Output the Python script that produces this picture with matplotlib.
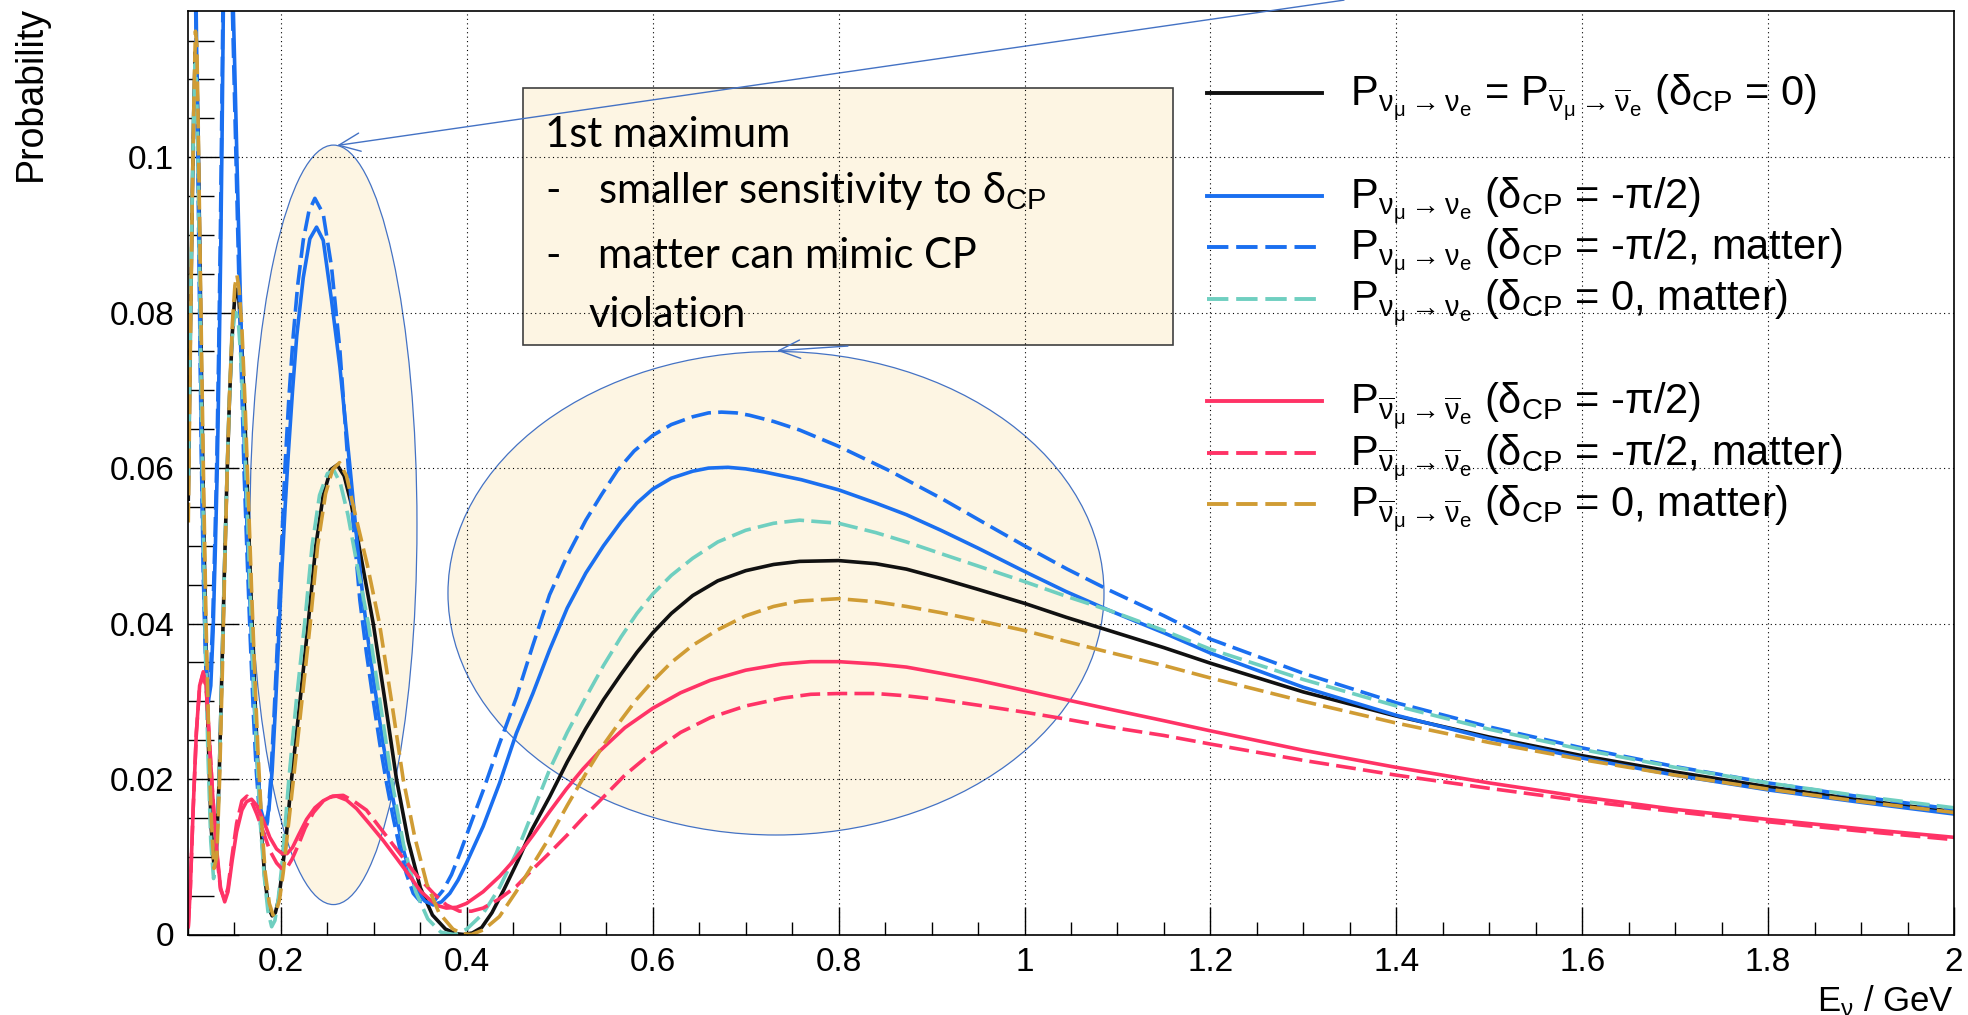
import matplotlib
matplotlib.use('agg')
import matplotlib.pyplot as plt
from matplotlib.patches import Ellipse, Rectangle
from matplotlib.ticker import MultipleLocator, FuncFormatter

nan = float('nan')

# ---- curves (E in GeV, probability) ----
e_black = [0.1003, 0.1025, 0.1045, 0.1062, 0.1078, 0.1093, 0.111, 0.1127, 0.1145, 0.1165, 0.119, 0.1218, 0.1248,
           0.1278, 0.1305, 0.1335, 0.1365, 0.139, 0.1415, 0.1445, 0.1475, 0.150, 0.1522, 0.1545, 0.1575, 0.161,
           0.1645, 0.168, 0.1715, 0.175, 0.1785, 0.1825, 0.1865, 0.1905, 0.194, 0.1975, 0.2007, 0.206, 0.2114,
           0.2205, 0.2293, 0.2375, 0.2455, 0.2535, 0.2605, 0.268, 0.2755, 0.287, 0.2993, 0.312, 0.3243, 0.337, 0.35,
           0.363, 0.377, 0.388, 0.397, 0.406, 0.416, 0.427, 0.44,
           0.455, 0.47, 0.489, 0.508, 0.528, 0.547, 0.566, 0.583, 0.6, 0.62, 0.643, 0.67, 0.7, 0.73, 0.758, 0.8,
           0.84, 0.873, 0.91, 0.95, 1.0, 1.045, 1.091, 1.15, 1.2, 1.3, 1.4, 1.5, 1.6, 1.7, 1.8, 1.9, 2.0]
p_black = [0.056, 0.077, 0.094, 0.106, 0.1135, 0.112, 0.102, 0.088, 0.072, 0.056, 0.039, 0.025, 0.014, 0.009,
           0.0105, 0.020, 0.034, 0.046, 0.057, 0.0685, 0.077, 0.0815, 0.083, 0.082, 0.077, 0.067, 0.055, 0.043,
           0.032, 0.022, 0.014, 0.0075, 0.0035, 0.0024, 0.0028, 0.0045, 0.0075, 0.013, 0.020, 0.030, 0.040, 0.050,
           0.0565, 0.0598, 0.0604, 0.059, 0.0555, 0.048, 0.040, 0.030, 0.020, 0.012, 0.006, 0.0025, 0.0007, 0.0001,
           0.0, 0.0002, 0.0009, 0.0028, 0.0058,
           0.0095, 0.0135, 0.0177, 0.0222, 0.0265, 0.0302, 0.0335, 0.0363, 0.0388, 0.0413, 0.0436, 0.0455, 0.0468,
           0.0476, 0.048, 0.0481, 0.0477, 0.047, 0.0458, 0.0444, 0.0426, 0.0408, 0.0391, 0.0369, 0.0349, 0.0312,
           0.0281, 0.0254, 0.023, 0.0209, 0.019, 0.0173, 0.0158]

e_blue = [0.1088, 0.1098, 0.111, 0.1129, 0.1147, 0.117, 0.1195, 0.1219, 0.1245, 0.127, 0.1295, 0.1315, 0.1335,
          0.1352, 0.1366, 0.138, nan, 0.1488, 0.151, 0.153, 0.1559, 0.1585, 0.1613, 0.1645, 0.168, 0.1715, 0.1745,
          0.1785, 0.1828, 0.187, 0.1905, 0.194, 0.1975, 0.201, 0.2045, 0.208, 0.2125, 0.217, 0.224, 0.2311, 0.2383,
          0.2455, 0.2544, 0.2634, 0.2742, 0.2815, 0.2885, 0.2955, 0.3028, 0.31, 0.3172, 0.3245, 0.3315, 0.3385,
          0.3458, 0.3548, 0.3638, 0.3727, 0.3817, 0.3906, 0.3996, 0.4175, 0.4353,
          0.4533, 0.471, 0.489, 0.508, 0.528, 0.547, 0.566, 0.583, 0.6, 0.62, 0.643, 0.66, 0.681, 0.70, 0.72,
          0.76, 0.8, 0.84, 0.873, 0.91, 0.95, 1.0, 1.045, 1.091, 1.15, 1.2, 1.3, 1.4, 1.5, 1.6, 1.7, 1.8, 1.9, 2.0]
p_blue = [0.1188, 0.109, 0.1, 0.08, 0.061, 0.045, 0.034, 0.030, 0.032, 0.039, 0.050, 0.060, 0.074, 0.088, 0.102,
          0.1188, nan, 0.1188, 0.108, 0.098, 0.084, 0.072, 0.060, 0.049, 0.039, 0.029, 0.022, 0.016, 0.0142, 0.016,
          0.021, 0.029, 0.038, 0.047, 0.055, 0.062, 0.070, 0.077, 0.0845, 0.0895, 0.091, 0.0893, 0.0816, 0.073,
          0.0602, 0.051, 0.043, 0.0362, 0.0302, 0.0245, 0.0195, 0.015, 0.011, 0.008, 0.0057, 0.0043, 0.0038,
          0.0042, 0.0053, 0.007, 0.0092, 0.0139, 0.0195,
          0.0259, 0.031, 0.0366, 0.042, 0.0465, 0.05, 0.0531, 0.0555, 0.0573, 0.0587, 0.0596, 0.06, 0.0601, 0.0599,
          0.0595, 0.0585, 0.0572, 0.0555, 0.054, 0.052, 0.0497, 0.0467, 0.0441, 0.0417, 0.0388, 0.0362, 0.0318,
          0.0282, 0.0252, 0.0227, 0.0205, 0.0186, 0.017, 0.0155]

e_blue_m = [0.1083, 0.1093, 0.1105, 0.1125, 0.1143, 0.1165, 0.119, 0.1213, 0.124, 0.1265, 0.129, 0.131, 0.133,
            0.1347, 0.1361, 0.1375, nan, 0.1478, 0.150, 0.152, 0.1548, 0.1575, 0.1602, 0.1635, 0.167, 0.1705,
            0.1735, 0.1775, 0.1815, 0.1855, 0.189, 0.1925, 0.196, 0.2, 0.2043, 0.2085, 0.2132, 0.218, 0.224, 0.230,
            0.2365, 0.2455, 0.2544, 0.2634, 0.2724, 0.2787, 0.2849, 0.292, 0.2992, 0.3064, 0.3136, 0.3208, 0.328,
            0.335, 0.3423, 0.3495, 0.3566, 0.3655, 0.3745, 0.3835, 0.3924, 0.405, 0.4175, 0.435, 0.4533,
            0.471, 0.489, 0.508, 0.528, 0.545, 0.562, 0.58, 0.6, 0.62, 0.643, 0.66, 0.674, 0.69, 0.704, 0.73, 0.758,
            0.8, 0.854, 0.912, 0.969, 1.0, 1.046, 1.091, 1.15, 1.2, 1.3, 1.4, 1.5, 1.6, 1.7, 1.8, 1.9, 2.0]
p_blue_m = [0.1188, 0.109, 0.1, 0.08, 0.062, 0.046, 0.035, 0.031, 0.033, 0.040, 0.051, 0.061, 0.075, 0.089, 0.103,
            0.1188, nan, 0.1188, 0.108, 0.098, 0.084, 0.072, 0.060, 0.049, 0.038, 0.028, 0.021, 0.0145, 0.0125,
            0.0145, 0.020, 0.028, 0.037, 0.048, 0.060, 0.069, 0.077, 0.0835, 0.0893, 0.093, 0.0947, 0.0927,
            0.0859, 0.0752, 0.0602, 0.0515, 0.043, 0.0362, 0.0302, 0.0245, 0.0195, 0.015, 0.011, 0.0078, 0.0053,
            0.0043, 0.004, 0.0044, 0.0057, 0.0077, 0.0104, 0.0145, 0.0185, 0.0245, 0.0305,
            0.0372, 0.0437, 0.0487, 0.0533, 0.0566, 0.0597, 0.0622, 0.0642, 0.0656, 0.0666, 0.0671, 0.0672, 0.0671,
            0.0668, 0.066, 0.0649, 0.0628, 0.0597, 0.056, 0.0521, 0.05, 0.047, 0.0443, 0.041, 0.038, 0.0336,
            0.0298, 0.0267, 0.024, 0.0216, 0.0195, 0.0177, 0.0161]

e_teal = [0.1003, 0.1025, 0.1045, 0.1062, 0.1078, 0.1093, 0.111, 0.1125, 0.1143, 0.1163, 0.1187, 0.1215, 0.1245,
          0.1275, 0.1305, 0.1335, 0.1365, 0.139, 0.1412, 0.144, 0.147, 0.150, 0.1518, 0.154, 0.157, 0.1605, 0.164,
          0.1675, 0.171, 0.1745, 0.178, 0.182, 0.186, 0.19, 0.1935, 0.197, 0.2007, 0.2045, 0.2085, 0.2165, 0.2255,
          0.2335, 0.2415, 0.25, 0.257, 0.264, 0.272, 0.282, 0.294, 0.3065, 0.319, 0.332, 0.345, 0.358, 0.372,
          0.386, 0.40, 0.4175, 0.435, 0.4533,
          0.471, 0.489, 0.508, 0.528, 0.547, 0.566, 0.583, 0.6, 0.62, 0.643, 0.67, 0.7, 0.73, 0.758, 0.8, 0.84,
          0.873, 0.91, 0.95, 1.0, 1.045, 1.091, 1.15, 1.2, 1.3, 1.4, 1.5, 1.6, 1.7, 1.8, 1.9, 2.0]
p_teal = [0.058, 0.078, 0.095, 0.106, 0.112, 0.109, 0.098, 0.085, 0.069, 0.054, 0.037, 0.023, 0.012, 0.0072,
          0.0095, 0.020, 0.034, 0.046, 0.056, 0.067, 0.076, 0.0795, 0.080, 0.079, 0.074, 0.065, 0.054, 0.042,
          0.031, 0.022, 0.014, 0.0075, 0.003, 0.001, 0.0018, 0.0045, 0.0085, 0.014, 0.020, 0.030, 0.040, 0.050,
          0.0565, 0.0593, 0.0597, 0.058, 0.054, 0.0475, 0.040, 0.030, 0.020, 0.0115, 0.0055, 0.002, 0.0003, 0.0,
          0.0007, 0.0027, 0.006, 0.0105,
          0.0158, 0.0212, 0.026, 0.0305, 0.0346, 0.0383, 0.0413, 0.0438, 0.0462, 0.0484, 0.0505, 0.052, 0.0529,
          0.0533, 0.0529, 0.0517, 0.0505, 0.049, 0.0474, 0.0454, 0.0435, 0.0417, 0.0391, 0.0367, 0.0328, 0.0294,
          0.0264, 0.0238, 0.0215, 0.0195, 0.0178, 0.0163]

e_red = [0.1003, 0.1025, 0.1055, 0.109, 0.1125, 0.1164, 0.1195, 0.1225, 0.1265, 0.1308, 0.135, 0.1395, 0.143,
         0.1475, 0.1523, 0.158, 0.163, 0.1684, 0.174, 0.181, 0.188, 0.1953, 0.2015, 0.2065, 0.2125, 0.219, 0.2275,
         0.2365, 0.2455, 0.2535, 0.2598, 0.2705, 0.2813, 0.2955, 0.31, 0.3245, 0.3387, 0.35, 0.36, 0.369, 0.378,
         0.389, 0.3996, 0.4175, 0.4354, 0.4533,
         0.4713, 0.489, 0.507, 0.525, 0.543, 0.57, 0.6, 0.63, 0.662, 0.7, 0.739, 0.77, 0.8, 0.84, 0.873, 0.91,
         0.95, 1.0, 1.045, 1.091, 1.15, 1.2, 1.3, 1.4, 1.5, 1.6, 1.7, 1.8, 1.9, 2.0]
p_red = [0.001, 0.006, 0.016, 0.026, 0.032, 0.0338, 0.032, 0.026, 0.018, 0.011, 0.006, 0.0042, 0.0055, 0.0095,
         0.0132, 0.016, 0.0171, 0.0174, 0.0166, 0.0147, 0.0125, 0.011, 0.0104, 0.0104, 0.0112, 0.0128, 0.0148,
         0.0163, 0.0172, 0.0177, 0.0178, 0.0173, 0.0162, 0.0142, 0.0121, 0.0098, 0.0075, 0.0056, 0.0045, 0.0037,
         0.0034, 0.0035, 0.004, 0.0055, 0.0075, 0.0099,
         0.0128, 0.0158, 0.0187, 0.0213, 0.0236, 0.0266, 0.0291, 0.0311, 0.0327, 0.034, 0.0348, 0.0351, 0.0351,
         0.0348, 0.0344, 0.0336, 0.0327, 0.0314, 0.0302, 0.029, 0.0275, 0.0262, 0.0237, 0.0215, 0.0195, 0.0177,
         0.0161, 0.0148, 0.0136, 0.0125]

e_red_m = [0.1003, 0.1025, 0.1055, 0.109, 0.1125, 0.116, 0.1195, 0.1225, 0.1265, 0.1308, 0.135, 0.1395, 0.143,
           0.1475, 0.1523, 0.158, 0.1635, 0.168, 0.174, 0.181, 0.188, 0.1953, 0.2007, 0.206, 0.212, 0.219, 0.226,
           0.235, 0.245, 0.2555, 0.267, 0.279, 0.292, 0.31, 0.328, 0.346, 0.364, 0.378, 0.392, 0.405, 0.4175,
           0.4353, 0.4533,
           0.471, 0.489, 0.508, 0.525, 0.543, 0.57, 0.6, 0.63, 0.662, 0.7, 0.739, 0.77, 0.8, 0.84, 0.873, 0.91,
           0.95, 1.0, 1.045, 1.091, 1.15, 1.2, 1.3, 1.4, 1.5, 1.6, 1.7, 1.8, 1.9, 2.0]
p_red_m = [0.001, 0.006, 0.016, 0.026, 0.0318, 0.0335, 0.0318, 0.026, 0.018, 0.0105, 0.0058, 0.0045, 0.006,
           0.0102, 0.0143, 0.0172, 0.0178, 0.0172, 0.0155, 0.0132, 0.0108, 0.0092, 0.0085, 0.0085, 0.0097, 0.0116,
           0.0137, 0.0157, 0.0171, 0.0178, 0.0179, 0.0171, 0.016, 0.0132, 0.0104, 0.0076, 0.0053, 0.0038, 0.003,
           0.003, 0.0034, 0.0046, 0.0062,
           0.0084, 0.0105, 0.0128, 0.015, 0.0172, 0.0205, 0.0235, 0.026, 0.0279, 0.0294, 0.0304, 0.0309, 0.031,
           0.031, 0.0307, 0.0302, 0.0295, 0.0286, 0.0277, 0.0267, 0.0256, 0.0245, 0.0224, 0.0205, 0.0188, 0.0172,
           0.0158, 0.0145, 0.0133, 0.0122]

e_gold = [0.1003, 0.1025, 0.1045, 0.1065, 0.108, 0.1095, 0.111, 0.1127, 0.1147, 0.1168, 0.1193, 0.122, 0.125,
          0.128, 0.131, 0.134, 0.137, 0.1395, 0.1418, 0.1447, 0.1477, 0.1505, 0.1527, 0.155, 0.158, 0.1615, 0.165,
          0.1685, 0.172, 0.1755, 0.179, 0.183, 0.1875, 0.1915, 0.1945, 0.1985, 0.2025, 0.2075, 0.2135, 0.2225,
          0.2315, 0.2395, 0.248, 0.2555, 0.263, 0.2705, 0.28, 0.293, 0.306, 0.319, 0.3315, 0.344, 0.357, 0.37,
          0.385, 0.395, 0.405, 0.418, 0.435,
          0.453, 0.47, 0.489, 0.508, 0.528, 0.547, 0.566, 0.583, 0.6, 0.62, 0.643, 0.67, 0.7, 0.73, 0.758, 0.8,
          0.84, 0.873, 0.91, 0.95, 1.0, 1.045, 1.091, 1.15, 1.2, 1.3, 1.4, 1.5, 1.6, 1.7, 1.8, 1.9, 2.0]
p_gold = [0.053, 0.075, 0.094, 0.108, 0.1162, 0.1145, 0.104, 0.090, 0.074, 0.058, 0.041, 0.027, 0.015, 0.0085,
          0.010, 0.020, 0.034, 0.047, 0.058, 0.0695, 0.0785, 0.0835, 0.0848, 0.083, 0.078, 0.068, 0.056, 0.044,
          0.033, 0.023, 0.015, 0.008, 0.004, 0.0025, 0.0028, 0.0045, 0.008, 0.0135, 0.020, 0.030, 0.040, 0.050,
          0.0567, 0.0598, 0.0607, 0.059, 0.054, 0.0475, 0.040, 0.030, 0.020, 0.0125, 0.0065, 0.0028, 0.0007,
          0.0001, 0.0, 0.0006, 0.0023,
          0.0055, 0.0088, 0.0125, 0.0166, 0.0207, 0.0244, 0.0276, 0.0303, 0.0326, 0.035, 0.0372, 0.0392, 0.041,
          0.0422, 0.0429, 0.0432, 0.0428, 0.0422, 0.0414, 0.0404, 0.0391, 0.0377, 0.0363, 0.0346, 0.033, 0.03,
          0.0272, 0.0247, 0.0225, 0.0205, 0.0187, 0.0171, 0.0157]

nu = r'P$_{\mathrm{\nu_{\mu}\rightarrow\nu_{e}}}$'
nubar = r'P$_{\mathrm{\overline{\nu}_{\mu}\rightarrow\overline{\nu}_{e}}}$'
labels = [nu + ' = ' + nubar + r' (δ$_{\mathrm{CP}}$ = 0)',
          nu + r' (δ$_{\mathrm{CP}}$ = -π/2)',
          nu + r' (δ$_{\mathrm{CP}}$ = -π/2, matter)',
          nu + r' (δ$_{\mathrm{CP}}$ = 0, matter)',
          nubar + r' (δ$_{\mathrm{CP}}$ = -π/2)',
          nubar + r' (δ$_{\mathrm{CP}}$ = -π/2, matter)',
          nubar + r' (δ$_{\mathrm{CP}}$ = 0, matter)']

curves = [(e_black, p_black), (e_blue, p_blue), (e_blue_m, p_blue_m), (e_teal, p_teal),
          (e_red, p_red), (e_red_m, p_red_m), (e_gold, p_gold)]
colors = ['#111111', '#1a6ff0', '#1a6ff0', '#6fcfc0', '#ff3366', '#ff3366', '#d09c34']
solid = '-'
dash = (0, (5.5, 2))
styles = [solid, solid, dash, dash, solid, dash, dash]

plt.rcParams['font.family'] = ['Liberation Sans', 'DejaVu Sans']
plt.rcParams['mathtext.fontset'] = 'custom'
plt.rcParams['mathtext.rm'] = 'Liberation Sans'
plt.rcParams['mathtext.it'] = 'Liberation Sans:italic'
plt.rcParams['mathtext.bf'] = 'Liberation Sans:bold'
plt.rcParams['mathtext.sf'] = 'Liberation Sans'

fig = plt.figure(figsize=(19.68, 10.15), dpi=100)
ax = fig.add_axes([188 / 1968, 80.5 / 1015, 1766 / 1968, 923.5 / 1015])
ax.set_xlim(0.1, 2.0)
ax.set_ylim(0, 0.1188)

for (e, p), c, ls in zip(curves, colors, styles):
    ax.plot(e, p, color=c, linestyle=ls, linewidth=2.6, zorder=2)

# overlay shapes (slide annotations)
fill = '#fdf5e3'
edge = '#4472c4'
ax.add_patch(Ellipse((0.2565, 0.0527), 0.1797, 0.0977, facecolor=fill, edgecolor=edge, lw=0.9, zorder=0.2))
ax.add_patch(Ellipse((0.7326, 0.0439), 0.7058, 0.0622, facecolor=fill, edgecolor=edge, lw=0.9, zorder=0.2))
ax.add_patch(Rectangle((0.4604, 0.0758), 0.6993, 0.0331, facecolor=fill, edgecolor='#404040', lw=1.2,
                       zorder=0.2))
ax.annotate('', xy=(0.2603, 0.1015), xytext=(1.3437, 0.1202), annotation_clip=False,
            arrowprops=dict(arrowstyle='->,head_length=0.7,head_width=0.3', color=edge, lw=1.0,
                            shrinkA=0, shrinkB=0, mutation_scale=22), zorder=3)
ax.annotate('', xy=(0.7337, 0.0751), xytext=(0.810, 0.0757), annotation_clip=False,
            arrowprops=dict(arrowstyle='->,head_length=0.7,head_width=0.3', color=edge, lw=1.0,
                            shrinkA=0, shrinkB=0, mutation_scale=22), zorder=3)

box_font = dict(family=['Lato', 'DejaVu Sans'], fontsize=30, va='baseline', zorder=4)
ax.text(0.4841, 0.1013, '1st maximum', **box_font)
ax.text(0.4841, 0.0941, '-', **box_font)
ax.text(0.5411, 0.0941, r'smaller sensitivity to δ$_{\mathrm{CP}}$', **box_font)
ax.text(0.4841, 0.0857, '-', **box_font)
ax.text(0.5411, 0.0857, 'matter can mimic CP', **box_font)
ax.text(0.5314, 0.0781, 'violation', **box_font)

# axes styling (ROOT look)
ax.set_axisbelow(True)
ax.grid(True, which='major', color='black', linestyle=(0, (1, 3)), linewidth=0.8)
ax.xaxis.set_major_locator(MultipleLocator(0.2))
ax.xaxis.set_minor_locator(MultipleLocator(0.05))
ax.yaxis.set_major_locator(MultipleLocator(0.02))
ax.yaxis.set_minor_locator(MultipleLocator(0.005))
fmt = FuncFormatter(lambda v, pos: '%g' % round(v, 4))
ax.xaxis.set_major_formatter(fmt)
ax.yaxis.set_major_formatter(fmt)
ax.tick_params(axis='x', which='major', direction='in', length=20, width=1.0, labelsize=24, pad=9)
ax.tick_params(axis='x', which='minor', direction='in', length=9.5, width=1.0)
ax.tick_params(axis='y', which='major', direction='in', length=37, width=1.0, labelsize=24, pad=10)
ax.tick_params(axis='y', which='minor', direction='in', length=19, width=1.0)
for s in ax.spines.values():
    s.set_linewidth(1.2)

ax.text(1.0, -0.0525, r'E$_{\mathrm{\nu}}$ / GeV', transform=ax.transAxes, ha='right', va='top', fontsize=25)
fig.text(0.0155, 0.994, 'Probability', rotation=90, ha='center', va='top', fontsize=27)

# legend, laid out row by row like the original
rows = [0, 2, 3, 4, 6, 7, 8]
y0 = (934.5 - 93) / 923.5
dy = 51.4 / 923.5
for lab, c, ls, r in zip(labels, colors, styles, rows):
    y = y0 - r * dy
    ax.plot([0.577, 0.642], [y, y], transform=ax.transAxes, color=c, linestyle=ls, linewidth=2.8,
            clip_on=False, zorder=5)
    ax.text(0.658, y - 12 / 923.5, lab, transform=ax.transAxes, fontsize=30, va='baseline', ha='left', zorder=5)

fig.savefig('out.png', dpi=100)
